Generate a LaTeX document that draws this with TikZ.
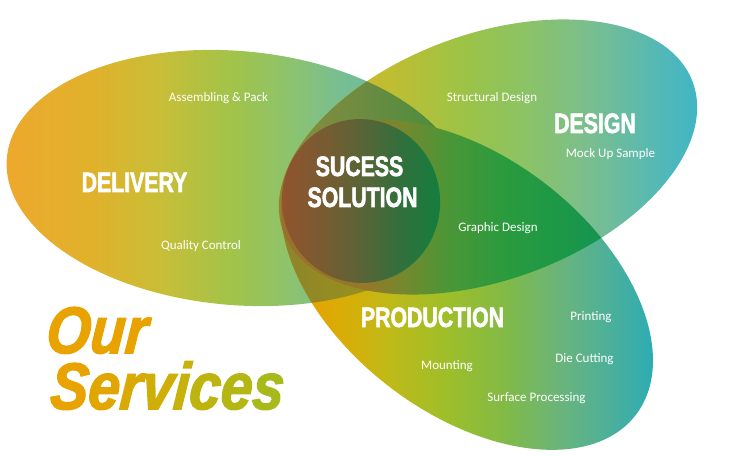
\documentclass[tikz,border=0pt]{standalone}
\usepackage{fontspec}
\usepackage{xcolor}
\newfontfamily\labelfont{Carlito}
\newfontfamily\headfont[FakeStretch=0.76,FakeBold=2,UprightFont=* Bold]{Liberation Sans}
\newfontfamily\servfont[FakeStretch=0.86,FakeBold=2,FakeSlant=0.08,UprightFont=* Bold Italic]{Liberation Sans}

\definecolor{sv1}{RGB}{232,163,0}
\definecolor{sv2}{RGB}{226,166,2}
\definecolor{sv3}{RGB}{217,170,5}
\definecolor{sv4}{RGB}{207,174,8}
\definecolor{sv5}{RGB}{199,177,11}
\definecolor{sv6}{RGB}{190,180,15}
\definecolor{sv7}{RGB}{180,182,20}
\definecolor{sv8}{RGB}{168,185,28}

\pgfdeclarehorizontalshading{delivery}{100bp}{rgb(0bp)=(.933,.659,.173); rgb(25bp)=(.933,.659,.173);
  rgb(35bp)=(.878,.698,.173); rgb(42bp)=(.784,.745,.216); rgb(50bp)=(.627,.765,.294);
  rgb(56bp)=(.549,.765,.439); rgb(61bp)=(.471,.745,.569); rgb(75bp)=(.314,.706,.745); rgb(100bp)=(.314,.706,.745)}
\pgfdeclarehorizontalshading{design}{100bp}{rgb(0bp)=(.894,.686,.137); rgb(25bp)=(.894,.686,.137);
  rgb(33.5bp)=(.843,.714,.157); rgb(39.5bp)=(.745,.745,.196); rgb(47.8bp)=(.608,.765,.282);
  rgb(53.8bp)=(.549,.765,.392); rgb(61bp)=(.478,.745,.557); rgb(69.4bp)=(.314,.722,.725);
  rgb(75bp)=(.216,.706,.784); rgb(100bp)=(.216,.706,.784)}
\pgfdeclarehorizontalshading{production}{100bp}{rgb(0bp)=(.922,.627,0); rgb(25bp)=(.922,.627,0);
  rgb(31bp)=(.910,.635,0); rgb(36.6bp)=(.831,.690,.039); rgb(41bp)=(.745,.729,.098);
  rgb(47.7bp)=(.620,.745,.165); rgb(54.4bp)=(.510,.729,.275); rgb(61.2bp)=(.412,.706,.490);
  rgb(67.9bp)=(.275,.686,.627); rgb(75bp)=(.098,.667,.765); rgb(100bp)=(.098,.667,.765)}
\pgfdeclarehorizontalshading{dlvdsn}{100bp}{rgb(0bp)=(.588,.510,.196); rgb(25bp)=(.588,.510,.196);
  rgb(31bp)=(.502,.549,.243); rgb(37bp)=(.412,.549,.255); rgb(44.3bp)=(.306,.549,.243);
  rgb(75bp)=(.235,.549,.235); rgb(100bp)=(.235,.549,.235)}
\pgfdeclarehorizontalshading{dlvprd}{100bp}{rgb(0bp)=(.541,.502,.188); rgb(25bp)=(.541,.502,.188);
  rgb(36bp)=(.588,.557,.125); rgb(100bp)=(.588,.557,.125)}
\pgfdeclarehorizontalshading{dsnprd}{100bp}{rgb(0bp)=(.608,.431,.176); rgb(25bp)=(.608,.431,.176);
  rgb(38bp)=(.588,.471,.165); rgb(42bp)=(.471,.529,.176); rgb(47.7bp)=(.294,.588,.216);
  rgb(54.4bp)=(.165,.608,.243); rgb(61.2bp)=(.110,.596,.282); rgb(67.9bp)=(.071,.573,.333);
  rgb(75bp)=(.059,.549,.353); rgb(100bp)=(.059,.549,.353)}
\pgfdeclarehorizontalshading{sucess}{100bp}{rgb(0bp)=(.588,.322,.176); rgb(25bp)=(.588,.322,.176);
  rgb(40bp)=(.463,.361,.196); rgb(50bp)=(.353,.392,.216); rgb(62bp)=(.188,.439,.235);
  rgb(75bp)=(.059,.502,.243); rgb(100bp)=(.059,.502,.243)}

\newcommand\dlvpath{(236,-178) circle [x radius=230, y radius=127, rotate=-5]}
\newcommand\dsnpath{(488,-157) circle [x radius=218, y radius=123, rotate=20]}
\newcommand\prdpath{(467,-285) circle [x radius=213, y radius=128, rotate=-37.6]}

\begin{document}
\begin{tikzpicture}[x=1pt, y=1pt,
    head/.style={anchor=base, inner sep=0pt, text=white, font=\headfont\fontsize{28}{30}\selectfont},
    item/.style={anchor=base, inner sep=0pt, text=white, font=\labelfont\fontsize{13}{15}\selectfont},
    serv/.style={anchor=south west, inner sep=0pt, align=left, font=\servfont\fontsize{66}{56}\selectfont}]
  \useasboundingbox (0,0) rectangle (750,-457);
  \shade[shading=delivery] \dlvpath;
  \shade[shading=design] \dsnpath;
  \shade[shading=production] \prdpath;
  \begin{scope}
    \clip \dlvpath;
    \shade[shading=dlvdsn] \dsnpath;
  \end{scope}
  \begin{scope}
    \clip \dlvpath;
    \shade[shading=dlvprd] \prdpath;
  \end{scope}
  \begin{scope}
    \clip \dsnpath;
    \shade[shading=dsnprd] \prdpath;
  \end{scope}
  \shade[shading=sucess] (361,-201) circle [x radius=79, y radius=82, rotate=10];

  \node[head] (delivery) at (134.5,-192) {DELIVERY};
  \node[head] (sucess) at (359.5,-176) {SUCESS};
  \node[head] (solution) at (362.5,-207) {SOLUTION};
  \node[head] (design) at (595,-133) {DESIGN};
  \node[head] (production) at (432.5,-327) {PRODUCTION};

  \node[item] (assembling) at (218.5,-101.5) {Assembling \& Pack};
  \node[item] (quality) at (201,-249.5) {Quality Control};
  \node[item] (structural) at (492,-101.5) {Structural Design};
  \node[item] (mockup) at (610.5,-157.5) {Mock Up Sample};
  \node[item] (graphic) at (498,-231.5) {Graphic Design};
  \node[item] (printing) at (591,-320.5) {Printing};
  \node[item] (diecutting) at (584.5,-362.5) {Die Cutting};
  \node[item] (mounting) at (447,-369.5) {Mounting};
  \node[item] (surface) at (536.5,-401.5) {Surface Processing};

  \node[serv] (ourservices) at (49,-410)
    {\hspace*{-4pt}\textcolor{sv1}{Our}\\
     \textcolor{sv1}{S}\textcolor{sv2}{e}\textcolor{sv3}{r}\textcolor{sv4}{v}\textcolor{sv5}{i}\textcolor{sv6}{c}\textcolor{sv7}{e}\textcolor{sv8}{s}};
\end{tikzpicture}
\end{document}
